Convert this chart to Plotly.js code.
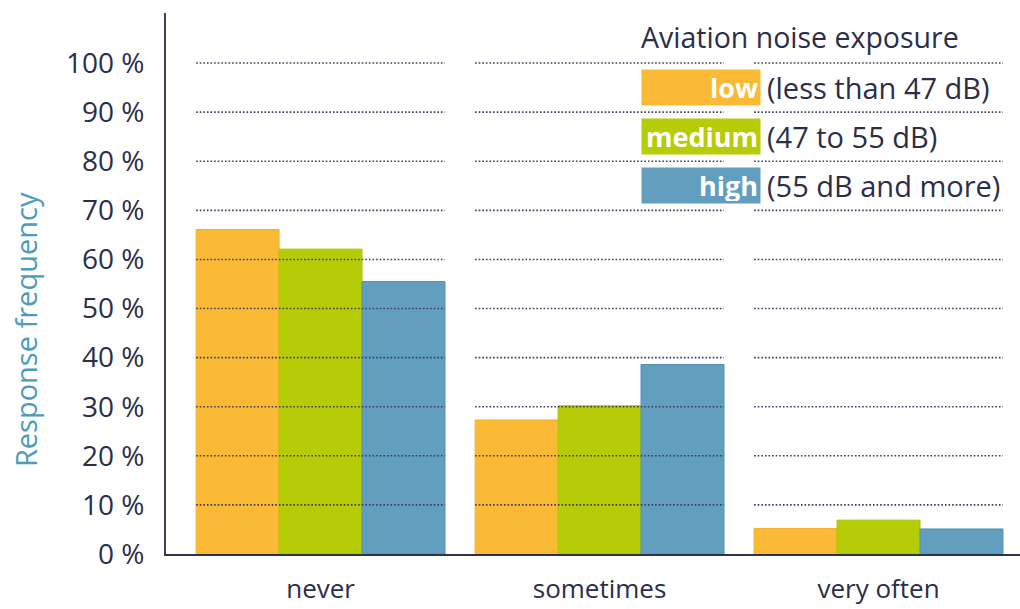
<!DOCTYPE html>
<html>
<head>
<meta charset="utf-8">
<script src="https://cdn.plot.ly/plotly-3.0.1.min.js"></script>
<style>html,body{margin:0;padding:0;background:#fff;}#chart{width:1020px;height:609px;}</style>
</head>
<body>
<div id="chart"></div>
<script>
const categories = ["never", "sometimes", "very often"];
const seriesNames = ["low", "medium", "high"];
const seriesDesc = ["(less than 47 dB)", "(47 to 55 dB)", "(55 dB and more)"];
const lowValues = [66.1, 27.3, 5.2];
const mediumValues = [62.1, 30.2, 6.9];
const highValues = [55.5, 38.6, 5.1];
const yTickVals = [0, 10, 20, 30, 40, 50, 60, 70, 80, 90, 100];
const yTickText = ["0 %", "10 %", "20 %", "30 %", "40 %", "50 %", "60 %", "70 %", "80 %", "90 %", "100 %"];
const legendTitle = "Aviation noise exposure";
const yTitle = "Response frequency";

const colors = ["#FBBA35", "#B6CC06", "#629FBF"];
const edge = ["#F5B02A", "#AEC402", "#5390B2"];
const navy = "#2B2E48";
const FONT = "Open Sans, Noto Sans, sans-serif";

const values = [lowValues, mediumValues, highValues];
const traces = values.map((v, i) => ({
  type: "bar",
  x: categories,
  y: v,
  name: seriesNames[i],
  marker: {color: colors[i], line: {color: edge[i], width: 1}},
  hoverinfo: "none"
}));

const half = 0.446;
const shapes = [];
categories.forEach((c, ci) => {
  yTickVals.filter(t => t > 0).forEach(t => {
    shapes.push({
      type: "line", xref: "x", yref: "y",
      x0: ci - half, x1: ci + half, y0: t, y1: t,
      layer: "above",
      line: {color: "#3A3D5C", width: 1.6, dash: "1.6px,2px"}
    });
  });
});

const annotations = [];
annotations.push({
  xref: "paper", yref: "paper", x: -0.165, y: 0.414,
  xanchor: "center", yanchor: "middle",
  text: yTitle, textangle: -90, showarrow: false,
  font: {family: FONT, size: 29, color: "#4C9CBC"}
});
annotations.push({
  xref: "paper", yref: "y", x: 0.5535, y: 105.3, xanchor: "left", yanchor: "middle",
  text: legendTitle, showarrow: false,
  font: {family: FONT, size: 28.5, color: navy, weight: 500}
});
const legendY = [95, 85, 75];
seriesNames.forEach((n, i) => {
  annotations.push({
    xref: "paper", yref: "y", x: 0.5562, y: legendY[i], xanchor: "left", yanchor: "middle",
    text: "<b>" + n + "</b>", showarrow: false, align: "right",
    width: 114, height: 31, borderpad: 2, bgcolor: colors[i],
    font: {family: FONT, size: 27, color: "#ffffff"}
  });
  annotations.push({
    xref: "paper", yref: "y", x: 0.7014, y: legendY[i], xanchor: "left", yanchor: "middle",
    text: seriesDesc[i], showarrow: false,
    font: {family: FONT, size: 29, color: navy}
  });
});

const layout = {
  width: 1020, height: 609,
  margin: {l: 166, r: 0, t: 13, b: 55, pad: 0},
  paper_bgcolor: "#ffffff", plot_bgcolor: "#ffffff",
  barmode: "group", bargap: 0.108, bargroupgap: 0,
  showlegend: false,
  xaxis: {
    type: "category", range: [-0.554, 2.507],
    showline: true, linecolor: "#2E3250", linewidth: 2,
    showgrid: false, zeroline: false, ticks: "",
    ticklabelstandoff: 11,
    tickfont: {family: FONT, size: 26, color: navy}
  },
  yaxis: {
    range: [0, 110.2],
    tickvals: yTickVals, ticktext: yTickText,
    showline: true, linecolor: "#3D3F5E", linewidth: 2,
    showgrid: false, zeroline: false, ticks: "",
    ticklabelstandoff: 14,
    tickfont: {family: FONT, size: 28, color: navy}
  },
  shapes: shapes,
  annotations: annotations
};

Plotly.newPlot("chart", traces, layout, {staticPlot: true, displayModeBar: false});
</script>
</body>
</html>
